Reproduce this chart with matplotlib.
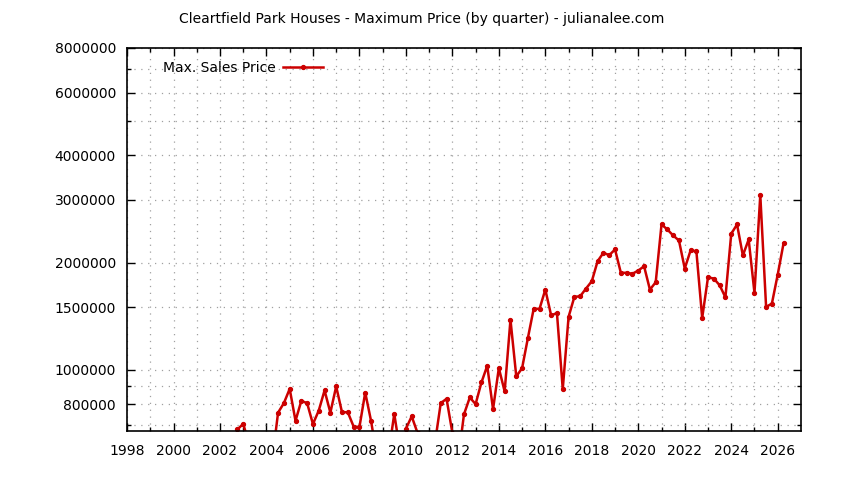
import matplotlib
matplotlib.use("Agg")
import matplotlib.pyplot as plt
from matplotlib.ticker import FixedLocator, NullFormatter

# quarterly max sales price (values under the axis are estimates)
quarters = [2002.50, 2002.75, 2003.00, 2003.25, 2003.50, 2003.75, 2004.00, 2004.25,
            2004.50, 2004.75, 2005.00, 2005.25, 2005.50, 2005.75, 2006.00, 2006.25,
            2006.50, 2006.75, 2007.00, 2007.25, 2007.50, 2007.75, 2008.00, 2008.25,
            2008.50, 2008.75, 2009.00, 2009.25, 2009.50, 2009.75, 2010.00, 2010.25,
            2010.50, 2010.75, 2011.00, 2011.25, 2011.50, 2011.75, 2012.00, 2012.25,
            2012.50, 2012.75, 2013.00, 2013.25, 2013.50, 2013.75, 2014.00, 2014.25,
            2014.50, 2014.75, 2015.00, 2015.25, 2015.50, 2015.75, 2016.00, 2016.25,
            2016.50, 2016.75, 2017.00, 2017.25, 2017.50, 2017.75, 2018.00, 2018.25,
            2018.50, 2018.75, 2019.00, 2019.25, 2019.50, 2019.75, 2020.00, 2020.25,
            2020.50, 2020.75, 2021.00, 2021.25, 2021.50, 2021.75, 2022.00, 2022.25,
            2022.50, 2022.75, 2023.00, 2023.25, 2023.50, 2023.75, 2024.00, 2024.25,
            2024.50, 2024.75, 2025.00, 2025.25, 2025.50, 2025.75, 2026.00, 2026.25]
max_price = [620000, 680000, 705000, 620000, 590000, 600000, 580000, 560000,
             758000, 806000, 884000, 719000, 818000, 806000, 704000, 768000,
             875000, 758000, 898000, 760000, 760000, 693000, 690000, 863000,
             719000, 573000, 600000, 580000, 752000, 590000, 683000, 740000,
             665000, 610000, 600000, 623000, 806000, 829000, 665000, 560000,
             750000, 836000, 801000, 921000, 1026000, 775000, 1011000, 869000,
             1382000, 958000, 1010000, 1228000, 1484000, 1482000, 1679000, 1421000,
             1443000, 882000, 1407000, 1602000, 1608000, 1690000, 1772000, 2017000,
             2130000, 2097000, 2176000, 1871000, 1871000, 1860000, 1899000, 1952000,
             1679000, 1760000, 2558000, 2476000, 2382000, 2306000, 1924000, 2162000,
             2150000, 1398000, 1818000, 1803000, 1727000, 1597000, 2408000, 2558000,
             2093000, 2321000, 1643000, 3092000, 1501000, 1534000, 1850000, 2262000]

year_ticks = list(range(1998, 2027, 2))
price_ticks = [800000, 1000000, 1500000, 2000000, 3000000, 4000000, 6000000, 8000000]
price_minor = [700000, 900000, 5000000, 7000000]

fig = plt.figure(figsize=(8.44, 4.8), dpi=100)
ax = fig.add_axes([0.1505, 0.102, 0.7985, 0.798])

ax.plot(quarters, max_price, color="#cc0000", lw=1.8, marker="o", ms=2.8,
        label="Max. Sales Price", solid_joinstyle="round")

ax.set_yscale("log")
ax.set_xlim(1998, 2027)
ax.set_ylim(673000, 8000000)

ax.xaxis.set_major_locator(FixedLocator(year_ticks))
ax.xaxis.set_minor_locator(FixedLocator(range(1999, 2027, 2)))
ax.yaxis.set_major_locator(FixedLocator(price_ticks))
ax.yaxis.set_minor_locator(FixedLocator(price_minor))
ax.yaxis.set_minor_formatter(NullFormatter())
ax.set_yticklabels([str(v) for v in price_ticks])
ax.set_xticklabels([str(y) for y in year_ticks])

ax.tick_params(which="both", direction="in", top=True, right=True, labelsize=10,
               color="black")
ax.tick_params(which="major", length=6, width=1)
ax.tick_params(which="minor", length=3, width=1)
ax.tick_params(axis="x", pad=9)
ax.tick_params(axis="y", pad=8)

ax.grid(True, which="both", color="#a0a0a0", linestyle=(0, (1, 4.5)), lw=0.9)
ax.set_axisbelow(True)
for s in ax.spines.values():
    s.set_linewidth(1.2)

ax.legend(loc="upper left", frameon=False, fontsize=10, markerfirst=False,
          handlelength=2.9, handletextpad=0.5, bbox_to_anchor=(0.035, 1.0))

fig.suptitle("Cleartfield Park Houses - Maximum Price (by quarter) - julianalee.com",
             y=0.975, fontsize=10)

fig.savefig("out.png", dpi=100)
